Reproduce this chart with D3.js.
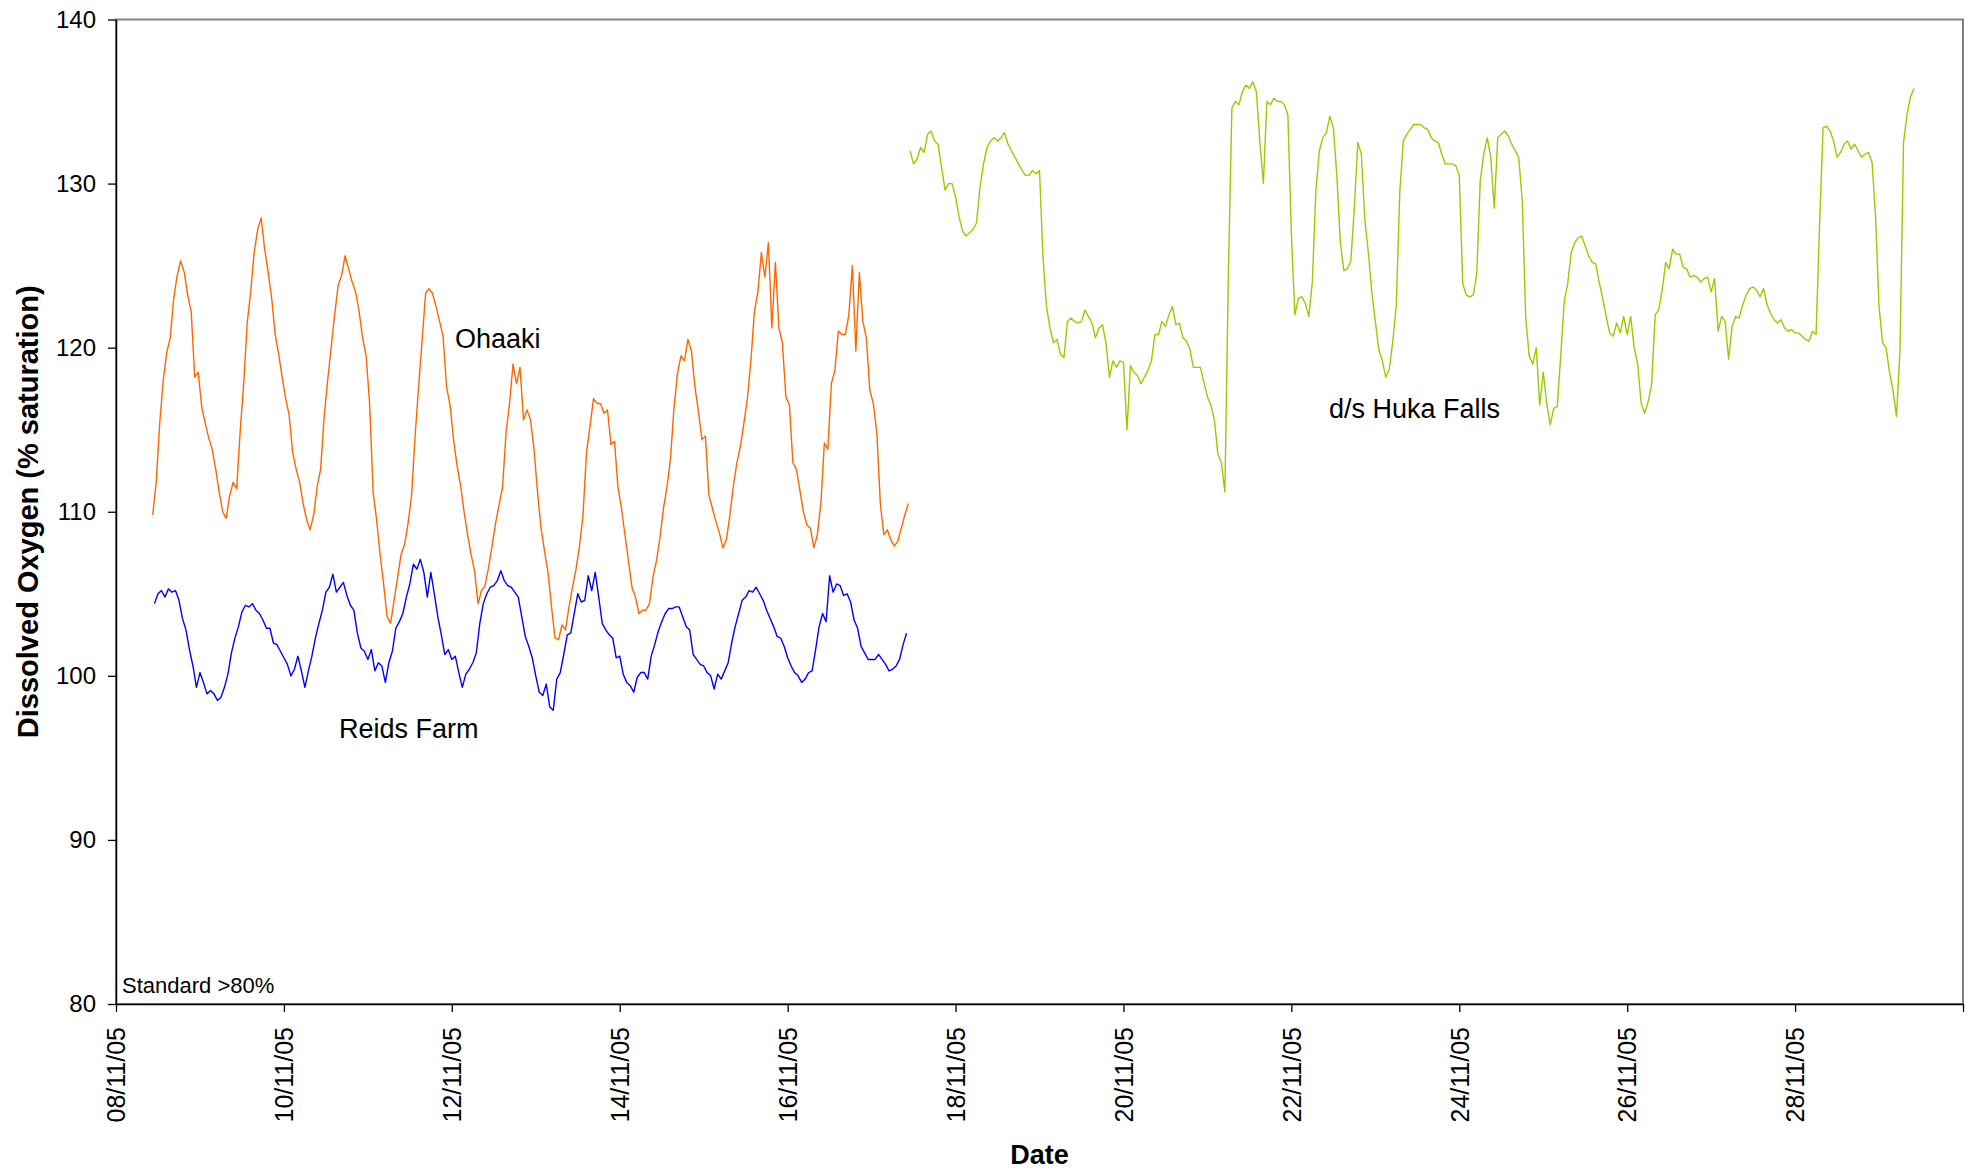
<!DOCTYPE html>
<html>
<head>
<meta charset="utf-8">
<script src="https://cdn.jsdelivr.net/npm/d3@7"></script>
<style>
  html, body { margin: 0; padding: 0; background: #fff; }
  svg { display: block; font-family: Arial, "Liberation Sans", sans-serif; }
</style>
</head>
<body>
<svg id="chart" width="1979" height="1173"></svg>
<script>
// ---------------- data (hourly readings, % saturation) ----------------
const ohaakiStart = "2005-11-08T10:30:00";
const ohaakiValues = [
  109.8,111.8,115.4,118.0,119.7,120.6,123.0,124.4,125.3,124.6,123.2,122.2,118.2,118.5,116.4,115.4,114.5,113.8,112.6,111.2,
  110.0,109.6,111.0,111.8,111.4,114.9,117.8,121.5,123.4,125.8,127.2,127.9,126.0,124.6,123.0,120.8,119.6,118.2,116.9,115.9,
  113.6,112.6,111.8,110.5,109.5,108.9,109.8,111.5,112.6,115.8,118.0,120.0,122.0,123.8,124.4,125.6,124.8,124.0,123.4,122.2,
  120.6,119.5,116.6,111.2,109.5,107.4,105.6,103.6,103.2,104.6,106.0,107.4,108.0,109.3,111.0,114.6,117.6,120.4,123.3,123.6,
  123.3,122.5,121.6,120.7,117.6,116.5,114.4,112.8,111.6,110.0,108.6,107.4,106.4,104.4,105.2,105.5,106.6,107.9,109.3,110.4,
  111.5,114.8,116.6,119.0,117.8,118.8,115.6,116.2,115.6,113.8,111.2,109.0,107.6,106.3,104.2,102.3,102.2,103.1,102.8,104.2,
  105.4,106.5,107.9,109.8,113.6,115.2,116.9,116.6,116.6,116.0,116.2,114.1,114.3,111.5,110.2,108.6,107.0,105.4,104.8,103.8,
  104.0,104.0,104.4,106.0,107.0,108.4,110.2,111.5,113.2,116.3,118.4,119.5,119.2,120.5,119.8,117.6,116.1,114.4,114.6,111.0,
  110.2,109.4,108.7,107.8,108.3,109.8,111.6,113.0,114.0,115.4,116.9,119.2,122.2,123.4,125.8,124.3,126.4,121.2,125.2,121.2,
  120.3,117.0,116.5,113.0,112.6,111.3,110.0,109.2,109.0,107.8,108.6,110.5,114.2,113.8,117.8,118.6,121.0,120.8,120.8,122.0,
  125.0,119.8,124.6,121.6,120.6,117.4,116.6,114.8,110.5,108.6,108.9,108.3,107.9,108.2,109.0,109.8,110.5
];

const reidsStart = "2005-11-08T11:00:00";
const reidsValues = [
  104.4,105.0,105.2,104.8,105.3,105.1,105.2,104.6,103.5,102.8,101.6,100.6,99.3,100.2,99.6,98.9,99.1,98.9,98.5,98.7,
  99.3,100.1,101.4,102.3,103.0,103.9,104.3,104.2,104.4,104.0,103.8,103.4,102.9,102.9,102.0,101.9,101.5,101.1,100.7,100.0,
  100.4,101.2,100.3,99.3,100.3,101.2,102.3,103.2,104.0,105.1,105.4,106.2,105.1,105.4,105.7,104.9,104.3,104.0,102.6,101.7,
  101.5,101.0,101.6,100.3,100.8,100.6,99.6,100.8,101.5,102.9,103.3,103.8,104.8,105.6,106.8,106.5,107.1,106.3,104.8,106.3,
  105.0,103.6,102.5,101.3,101.6,101.0,101.2,100.2,99.3,100.1,100.4,100.8,101.4,103.2,104.4,105.0,105.4,105.5,105.8,106.4,
  105.8,105.5,105.4,105.1,104.8,103.6,102.4,101.8,101.1,100.0,99.0,98.8,99.5,98.1,97.9,99.8,100.2,101.3,102.5,102.6,
  103.8,105.0,104.5,104.6,106.1,105.2,106.3,104.8,103.2,102.8,102.5,102.3,101.1,101.2,100.1,99.6,99.4,99.0,99.9,100.2,
  100.2,99.8,101.2,101.9,102.7,103.3,103.8,104.1,104.1,104.2,104.2,103.6,103.0,102.8,101.3,101.0,100.7,100.6,100.2,100.0,
  99.2,100.1,99.8,100.3,100.8,102.0,103.0,103.8,104.6,104.8,105.2,105.1,105.4,105.0,104.6,104.0,103.5,103.0,102.4,102.3,
  101.8,101.1,100.6,100.2,100.0,99.6,99.8,100.2,100.3,101.6,103.0,103.8,103.3,106.1,105.1,105.6,105.5,104.9,105.0,104.5,
  103.4,102.9,101.8,101.4,101.0,101.0,101.0,101.3,101.0,100.7,100.3,100.4,100.6,101.0,101.9,102.6
];

const hukaStart = "2005-11-17T11:00:00";
const hukaValues = [
  132.0,131.2,131.5,132.2,131.9,133.0,133.2,132.6,132.4,131.0,129.6,130.0,130.0,129.2,128.0,127.1,126.8,127.0,127.2,127.6,
  129.8,131.2,132.2,132.6,132.8,132.6,132.8,133.1,132.4,132.0,131.6,131.2,130.8,130.5,130.5,130.8,130.6,130.8,125.5,122.5,
  121.2,120.3,120.5,119.6,119.4,121.6,121.8,121.6,121.5,121.6,122.3,121.9,121.5,120.6,121.2,121.4,120.3,118.2,119.2,118.8,
  119.2,119.1,115.0,118.9,118.5,118.3,117.8,118.2,118.6,119.2,120.8,120.8,121.6,121.3,122.0,122.5,121.4,121.5,120.6,120.4,
  119.9,118.8,118.8,118.8,117.9,117.0,116.5,115.6,113.5,113.0,111.2,124.5,134.6,135.0,134.8,135.6,136.0,135.8,136.2,135.6,
  132.5,130.0,135.0,134.8,135.2,135.0,135.0,134.8,134.2,127.0,122.0,123.0,123.1,122.7,121.9,124.0,129.5,132.0,132.8,133.1,
  134.1,133.4,130.5,126.4,124.7,124.8,125.3,128.5,132.5,131.8,127.8,125.8,123.4,121.6,119.9,119.2,118.2,118.7,120.4,122.6,
  129.5,132.6,133.0,133.3,133.6,133.6,133.6,133.4,133.3,132.8,132.6,132.5,131.8,131.2,131.2,131.2,131.1,130.5,123.9,123.2,
  123.1,123.2,124.5,130.2,131.8,132.8,131.6,128.5,132.8,133.0,133.2,132.9,132.4,132.0,131.6,129.0,121.8,119.5,119.0,120.0,
  116.5,118.5,116.6,115.3,116.3,116.4,119.5,122.8,123.9,125.8,126.4,126.7,126.8,126.2,125.6,125.2,125.1,124.0,123.0,121.9,
  120.9,120.7,121.5,120.9,121.9,120.8,121.9,120.0,119.0,116.6,116.0,116.7,117.8,122.0,122.3,123.5,125.2,124.8,126.0,125.7,
  125.7,124.9,124.8,124.3,124.4,124.3,124.0,124.2,124.3,123.4,124.2,121.0,121.9,121.6,119.3,121.3,121.9,121.8,122.6,123.2,
  123.6,123.7,123.5,123.1,123.6,122.6,122.1,121.7,121.5,121.7,121.2,121.0,121.1,120.9,120.9,120.7,120.5,120.4,121.0,120.8,
  127.5,133.4,133.5,133.2,132.6,131.6,131.9,132.4,132.6,132.1,132.4,132.0,131.6,131.8,131.9,131.3,128.0,122.5,120.3,120.0,
  118.5,117.4,115.8,119.9,132.5,134.2,135.3,135.8
];

const xTickDates = ["2005-11-08","2005-11-10","2005-11-12","2005-11-14","2005-11-16","2005-11-18",
                    "2005-11-20","2005-11-22","2005-11-24","2005-11-26","2005-11-28","2005-11-30"];
const xTickLabels = ["08/11/05","10/11/05","12/11/05","14/11/05","16/11/05","18/11/05",
                     "20/11/05","22/11/05","24/11/05","26/11/05","28/11/05",""];
const yTicks = [80, 90, 100, 110, 120, 130, 140];

const seriesNames = ["Ohaaki", "Reids Farm", "d/s Huka Falls"];
const seriesColors = ["#FF6600", "#0000FF", "#99CC00"];

// ---------------- build ----------------
(function () {
const parse = d3.timeParse("%Y-%m-%dT%H:%M:%S");
const parseDay = d3.timeParse("%Y-%m-%d");
function toSeries(start, values) {
  const t0 = parse(start);
  return values.map((v, i) => ({ t: d3.timeHour.offset(t0, i), v }));
}
const series = [
  toSeries(ohaakiStart, ohaakiValues),
  toSeries(reidsStart, reidsValues),
  toSeries(hukaStart, hukaValues)
];

const pL = 116, pR = 1963, pT = 19.5, pB = 1004;
const svg = d3.select("#chart");

const x = d3.scaleTime()
  .domain([parseDay("2005-11-08"), parseDay("2005-11-30")])
  .range([pL, pR]);
const y = d3.scaleLinear().domain([80, 140]).range([pB, pT]);

// plot border (grey)
svg.append("rect")
  .attr("x", pL).attr("y", pT)
  .attr("width", pR - pL).attr("height", pB - pT)
  .attr("fill", "#fff").attr("stroke", "#808080").attr("stroke-width", 2);

// lines
const line = d3.line().x(d => x(d.t)).y(d => y(d.v));
series.forEach((s, i) => {
  svg.append("path")
    .datum(s)
    .attr("fill", "none")
    .attr("stroke", seriesColors[i])
    .attr("stroke-width", 1.4)
    .attr("stroke-linejoin", "round")
    .attr("d", line);
});

// y axis
const yAxis = d3.axisLeft(y).tickValues(yTicks).tickSize(8).tickSizeOuter(0).tickPadding(12);
const gy = svg.append("g").attr("transform", `translate(${pL},0)`).call(yAxis);
gy.select(".domain").attr("stroke", "#000").attr("stroke-width", 1.5);
gy.selectAll(".tick line").attr("stroke", "#000").attr("stroke-width", 1.3);
gy.selectAll(".tick text")
  .attr("font-size", 24).attr("fill", "#000")
  .attr("font-family", "Arial, 'Liberation Sans', sans-serif");

// x axis
const tickDates = xTickDates.map(parseDay);
const xAxis = d3.axisBottom(x).tickValues(tickDates).tickSize(8).tickSizeOuter(0)
  .tickFormat((d, i) => xTickLabels[i]);
const gx = svg.append("g").attr("transform", `translate(0,${pB})`).call(xAxis);
gx.select(".domain").attr("stroke", "#000").attr("stroke-width", 1.5);
gx.selectAll(".tick line").attr("stroke", "#000").attr("stroke-width", 1.3);
gx.selectAll(".tick text")
  .attr("font-size", 25).attr("fill", "#000")
  .attr("font-family", "Arial, 'Liberation Sans', sans-serif")
  .attr("transform", "rotate(-90)")
  .attr("text-anchor", "end")
  .attr("x", -23).attr("y", 0).attr("dy", "0.35em");

// axis titles
svg.append("text")
  .attr("transform", `translate(38,${(pT + pB) / 2}) rotate(-90)`)
  .attr("text-anchor", "middle")
  .attr("font-size", 29).attr("font-weight", "bold")
  .text("Dissolved Oxygen (% saturation)");

svg.append("text")
  .attr("x", (pL + pR) / 2).attr("y", 1164)
  .attr("text-anchor", "middle")
  .attr("font-size", 27).attr("font-weight", "bold")
  .text("Date");

// series labels
const labelPos = [[455, 348], [339, 738], [1329, 418]];
seriesNames.forEach((n, i) => {
  svg.append("text")
    .attr("x", labelPos[i][0]).attr("y", labelPos[i][1])
    .attr("font-size", 27).attr("fill", "#000")
    .text(n);
});

svg.append("text")
  .attr("x", 122).attr("y", 993)
  .attr("font-size", 22).attr("fill", "#000")
  .text("Standard >80%");
})();
</script>
</body>
</html>
